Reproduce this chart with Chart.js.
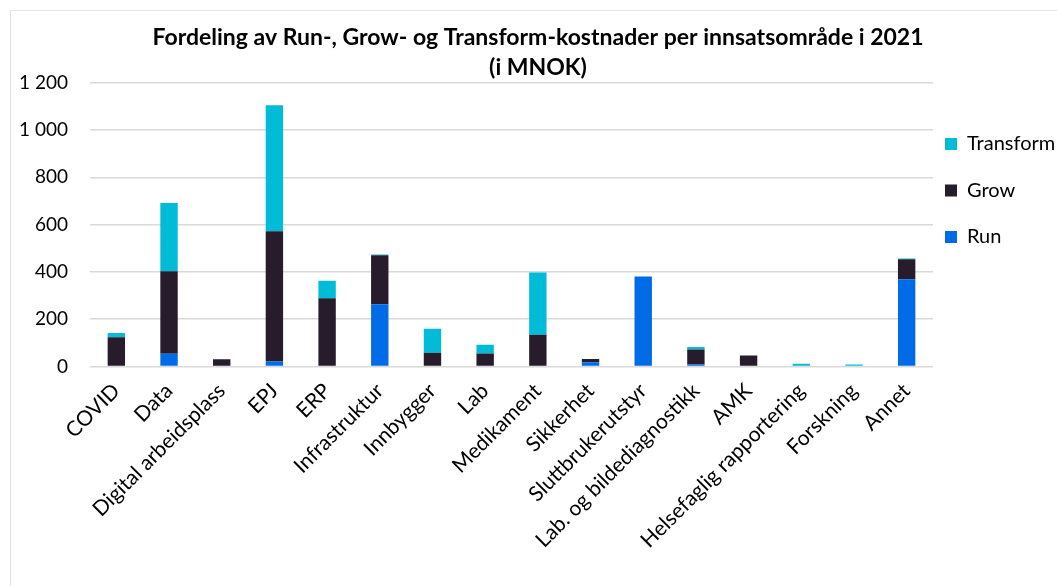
<!DOCTYPE html>
<html>
<head>
<meta charset="utf-8">
<script src="https://cdn.jsdelivr.net/npm/chart.js@4/dist/chart.umd.min.js"></script>
<style>
  html, body { margin: 0; padding: 0; background: #fff; }
  #wrap { position: absolute; left: 10px; top: 10px; width: 1047px; height: 576px;
          border-left: 1px solid #e3e3e3; border-top: 1px solid #e3e3e3; box-sizing: border-box; }
  canvas { display: block; }
</style>
</head>
<body>
<div id="wrap"><canvas id="c" width="1046" height="575"></canvas></div>
<script>
const categories = ["COVID", "Data", "Digital arbeidsplass", "EPJ", "ERP", "Infrastruktur", "Innbygger", "Lab", "Medikament", "Sikkerhet", "Sluttbrukerutstyr", "Lab. og bildediagnostikk", "AMK", "Helsefaglig rapportering", "Forskning", "Annet"];
const runValues       = [0, 54, 0, 21, 0, 263, 0, 0, 0, 18, 380, 8, 0, 0, 0, 369];
const growValues      = [124, 349, 30, 551, 289, 207, 58, 55, 134, 14, 0, 64, 46, 0, 0, 84];
const transformValues = [17, 288, 0, 533, 74, 4, 101, 37, 263, 0, 0, 10, 0, 11, 8, 4];
const yTicks = [0, 200, 400, 600, 800, 1000, 1200];
const titleLines = ["Fordeling av Run-, Grow- og Transform-kostnader per innsatsområde i 2021", "(i MNOK)"];

const FONT = "Lato, 'Open Sans', sans-serif";
const LEGEND_PAD = 26.5;

// Place the legend block beside the plot like the original
const legendPlacer = {
  id: 'legendPlacer',
  afterLayout(chart) {
    const lg = chart.legend;
    if (!lg) return;
    const h = lg.bottom - lg.top;
    lg.left = chart.chartArea.right + 12 - LEGEND_PAD;
    lg.right = chart.width;
    lg.top = 96.5;
    lg.bottom = lg.top + h;
  }
};

new Chart(document.getElementById('c'), {
  type: 'bar',
  data: {
    labels: categories,
    datasets: [
      { label: 'Run', data: runValues, backgroundColor: '#006be6' },
      { label: 'Grow', data: growValues, backgroundColor: '#261c2c' },
      { label: 'Transform', data: transformValues, backgroundColor: '#00bcd6' }
    ]
  },
  plugins: [legendPlacer],
  options: {
    responsive: false,
    animation: false,
    layout: { padding: { left: 8, right: 0, top: 0, bottom: 29 } },
    datasets: { bar: { barPercentage: 0.33, categoryPercentage: 1.0 } },
    plugins: {
      title: {
        display: true, text: titleLines, color: '#000',
        font: { family: FONT, size: 23, weight: 'bold', lineHeight: 1.3 }, padding: { top: 12, bottom: 0 }
      },
      legend: {
        position: 'right', reverse: true, align: 'start', maxWidth: 124,
        labels: { boxWidth: 12, boxHeight: 12, padding: LEGEND_PAD, color: '#000', font: { family: FONT, size: 20 } }
      },
      tooltip: { enabled: false }
    },
    scales: {
      x: {
        stacked: true,
        grid: { display: false },
        border: { display: false },
        ticks: { color: '#000', font: { family: FONT, size: 21 }, maxRotation: 45, minRotation: 45, autoSkip: false, padding: 4 }
      },
      y: {
        stacked: true,
        min: 0, max: 1200,
        afterBuildTicks: (axis) => { axis.ticks = yTicks.map(v => ({ value: v })); },
        afterFit: (axis) => { axis.width = 71; },
        grid: { color: '#d9d9d9', lineWidth: 1.5, drawTicks: false },
        border: { display: false },
        ticks: {
          color: '#000', font: { family: FONT, size: 19 }, padding: 22,
          callback: (v) => String(v).replace(/\B(?=(\d{3})+(?!\d))/g, ' ')
        }
      }
    }
  }
});
</script>
</body>
</html>
